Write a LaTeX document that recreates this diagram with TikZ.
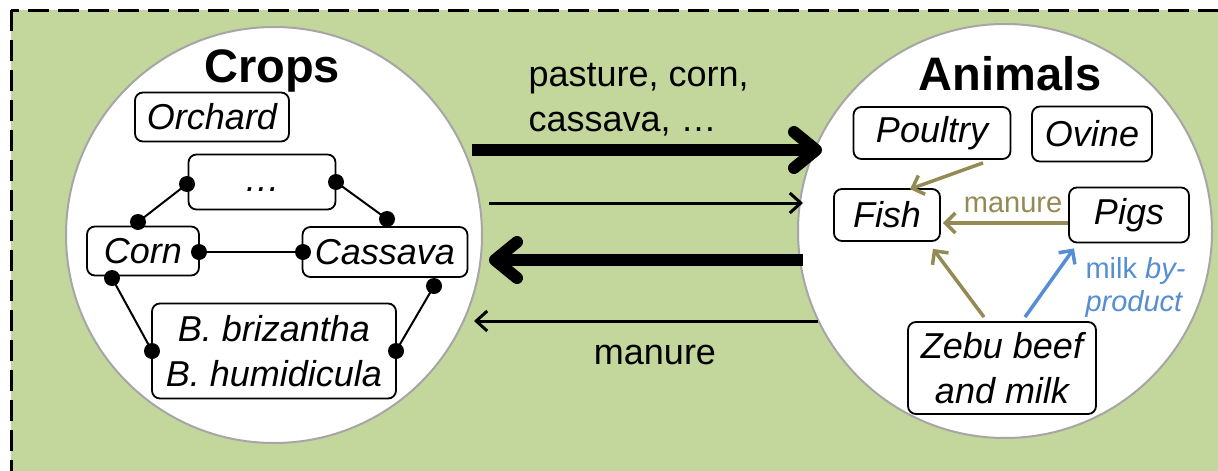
\documentclass[tikz,border=0pt]{standalone}
\usepackage{fontspec}
\setmainfont{Liberation Sans}
\usetikzlibrary{arrows.meta}
\definecolor{fieldgreen}{HTML}{C3D69B}
\definecolor{feedolive}{HTML}{948A54}
\definecolor{milkblue}{HTML}{558ED5}
\definecolor{rimgray}{HTML}{A6A6A6}
\begin{document}
\begin{tikzpicture}[x=1pt,y=-1pt,
  field/.style={circle,draw=rimgray,line width=2pt,fill=white,inner sep=0pt},
  title/.style={font=\fontsize{47}{56}\selectfont\bfseries},
  box/.style={draw=black,line width=1.8pt,fill=white,rounded corners=8pt,
    inner sep=0pt,align=center,font=\fontsize{36}{45}\selectfont\itshape},
  dot/.style={circle,fill=black,inner sep=0pt,minimum size=16pt},
  link/.style={line width=2pt},
  bigflow/.style={line width=12pt,-{Straight Barb[length=22pt,width=36pt,round]}},
  smallflow/.style={line width=3pt,-{Straight Barb[length=11pt,width=20pt]}},
  oliveflow/.style={draw=feedolive,line width=3.5pt,-{Straight Barb[length=10pt,width=20pt]}},
  blueflow/.style={draw=milkblue,line width=3.5pt,-{Straight Barb[length=10pt,width=20pt]}},
  flowlabel/.style={font=\fontsize{36}{45}\selectfont,align=left},
  smalllabel/.style={font=\fontsize{29}{33}\selectfont,align=left}]
\useasboundingbox (0,0) rectangle (1218,471);
\clip (0,0) rectangle (1218,471);

% farm background
\draw[fill=fieldgreen,line width=3pt,dash pattern=on 21pt off 9pt] (11,10) rectangle (1250,500);

% the two fields
\node[field,minimum size=416pt] (cropfield) at (274,235) {};
\node[field,minimum size=414pt] (animalfield) at (1005,231) {};

% crops
\node[title,anchor=base] (cropstitle) at (272,82) {Crops};
\node[box,minimum width=154pt,minimum height=49pt] (orchard) at (212,117) {Orchard};
\node[box,minimum width=147pt,minimum height=55pt,text height=18pt,text depth=0pt] (other) at (262,182) {\dots};
\node[box,minimum width=112pt,minimum height=49pt] (corn) at (143,251) {Corn};
\node[box,minimum width=165pt,minimum height=50pt] (cassava) at (385,252) {Cassava};
\node[box,minimum width=244pt,minimum height=95pt] (brach) at (274,351) {B. brizantha\\B. humidicula};

% rotation links
\node[dot] (otherL) at (187,184) {};
\node[dot] (otherR) at (336,182) {};
\node[dot] (cornT) at (138,222) {};
\node[dot] (cassT) at (387,219) {};
\node[dot] (cornR) at (199,252) {};
\node[dot] (cassL) at (303,252) {};
\node[dot] (cornB) at (112,278) {};
\node[dot] (brachL) at (152,351) {};
\node[dot] (cassB) at (434,286) {};
\node[dot] (brachR) at (396,351) {};
\draw[link] (otherL.center) -- (cornT.center);
\draw[link] (otherR.center) -- (cassT.center);
\draw[link] (cornR.center) -- (cassL.center);
\draw[link] (cornB.center) -- (brachL.center);
\draw[link] (cassB.center) -- (brachR.center);

% animals
\node[title,anchor=base] (animalstitle) at (1010,90) {Animals};
\node[box,minimum width=157pt,minimum height=52pt] (poultry) at (932,133) {Poultry};
\node[box,minimum width=120pt,minimum height=55pt] (ovine) at (1092,134) {Ovine};
\node[box,minimum width=106pt,minimum height=52pt] (fish) at (887,215) {Fish};
\node[box,minimum width=120pt,minimum height=55pt] (pigs) at (1129,215) {Pigs};
\node[box,minimum width=188pt,minimum height=92pt] (zebu) at (1002,368) {Zebu beef\\and milk};

\draw[oliveflow] ([xshift=51pt,yshift=-3pt]poultry.south) -- ([xshift=23pt,yshift=-1pt]fish.north);
\draw[oliveflow] ([yshift=-8pt]pigs.west) -- ([xshift=2pt,yshift=-8pt]fish.east);
\draw[oliveflow] ([xshift=-18pt,yshift=4pt]zebu.north) -- ([xshift=46pt,yshift=-7pt]fish.south);
\draw[blueflow] ([xshift=23pt,yshift=4pt]zebu.north) -- ([xshift=-55pt,yshift=-5pt]pigs.south);
\node[smalllabel,text=feedolive] (manurefish) at (1013,205) {manure};
\node[smalllabel,text=milkblue,anchor=west] (milklabel) at (1082,287) {milk \textit{by-}\\\textit{product}};

% exchanges between crops and animals
\coordinate (feedA) at (472,150);
\coordinate (feedB) at (822,150);
\coordinate (thinA) at (489,203);
\coordinate (thinB) at (803,203);
\coordinate (backA) at (803,260);
\coordinate (backB) at (489,260);
\coordinate (dungA) at (818,321);
\coordinate (dungB) at (474,321);
\draw[bigflow] (feedA) -- (feedB);
\draw[smallflow] (thinA) -- (thinB);
\draw[bigflow] (backA) -- (backB);
\draw[smallflow] (dungA) -- (dungB);
\node[flowlabel,anchor=west] (feedlabel) at (525,100) {pasture, corn,\\cassava, \dots};
\node[flowlabel] (manurelabel) at (655,355) {manure};
\end{tikzpicture}
\end{document}
